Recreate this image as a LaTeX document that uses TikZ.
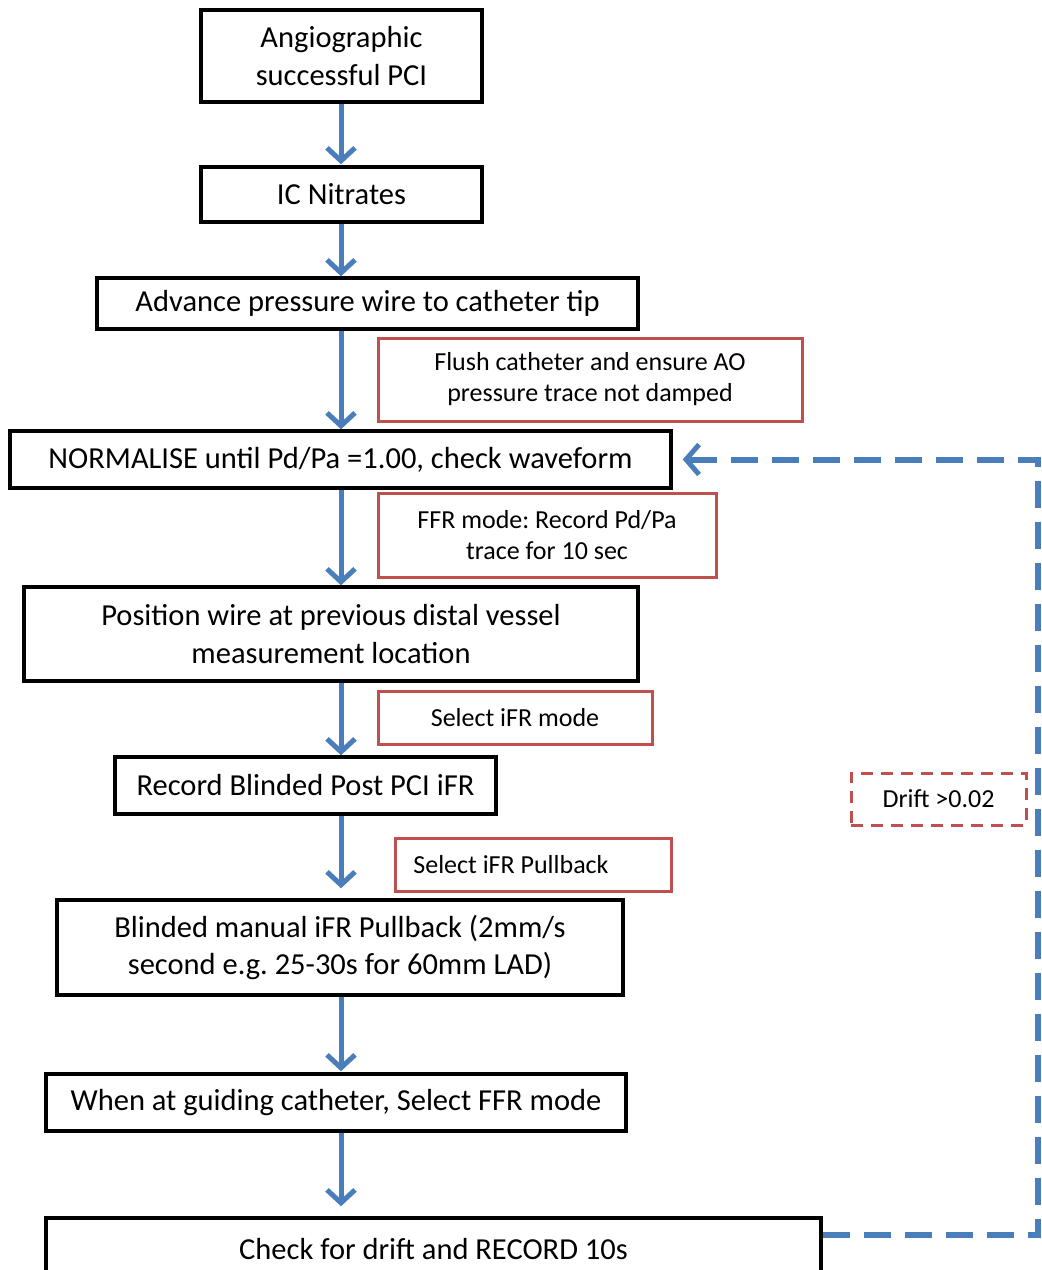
\documentclass[tikz,border=0pt]{standalone}
\usepackage{fontspec}
\setmainfont{Carlito}
\usetikzlibrary{arrows.meta}
\definecolor{flowblue}{HTML}{4A7EBB}
\definecolor{notered}{HTML}{C0504D}
\frenchspacing
\begin{document}
\begin{tikzpicture}[x=1pt,y=-1pt,
  stepbox/.style={draw=black, line width=3.5pt, align=center, inner sep=0pt,
    font=\fontsize{30.5}{37.5}\selectfont\frenchspacing},
  notebox/.style={draw=notered, line width=3pt, align=center, inner sep=0pt,
    font=\fontsize{26}{31}\selectfont\frenchspacing},
  flow/.style={draw=flowblue, line width=5pt,
    -{Straight Barb[length=13pt,width=28pt,line width=5pt]}},
  feedback/.style={draw=flowblue, line width=6pt, dash pattern=on 27pt off 14pt,
    -{Straight Barb[length=13pt,width=30pt,line width=5pt]}},
]
\useasboundingbox (0,0) rectangle (1042,1270);
\coordinate (spine) at (341,0);
\coordinate (loopx) at (1038,0);

\node[stepbox, minimum width=281pt, minimum height=92pt] (n1) at (341.5,56) {Angiographic\\successful PCI};
\node[stepbox, minimum width=281pt, minimum height=55pt] (n2) at (341.5,194.5) {IC Nitrates};
\node[stepbox, minimum width=541pt, minimum height=51pt] (n3) at (367.5,303.5) {\raisebox{-5pt}{Advance pressure wire to catheter tip}};
\node[stepbox, minimum width=661pt, minimum height=57pt] (n4) at (340.5,459.5) {\raisebox{-2pt}{NORMALISE until Pd/Pa =1.00, check waveform}};
\node[stepbox, minimum width=614pt, minimum height=94pt] (n5) at (331,634) {Position wire at previous distal vessel\\measurement location};
\node[stepbox, minimum width=381pt, minimum height=57pt] (n6) at (305.5,785.5) {Record Blinded Post PCI iFR};
\node[stepbox, minimum width=566pt, minimum height=95pt] (n7) at (340,947.5) {Blinded manual iFR Pullback (2mm/s\\second e.g. 25-30s for 60mm LAD)};
\node[stepbox, minimum width=580pt, minimum height=57pt] (n8) at (336,1102.5) {\raisebox{-1pt}{When at guiding catheter, Select FFR mode}};
\node[stepbox, minimum width=775pt, minimum height=62pt] (n9) at (433.5,1249) {Check for drift and RECORD 10s};

\node[notebox, minimum width=424pt, minimum height=83pt] (r1) at (590,379.5) {Flush catheter and ensure AO\\pressure trace not damped};
\node[notebox, minimum width=338pt, minimum height=84pt] (r2) at (547,535) {FFR mode: Record Pd/Pa\\trace for 10 sec};
\node[notebox, minimum width=274pt, minimum height=53pt] (r3) at (515,717.5) {Select iFR mode};
\node[notebox, minimum width=276pt, minimum height=53pt] (r4) at (533,864.5) {Select iFR Pullback\hspace*{44pt}};
\node[notebox, dash pattern=on 12pt off 8pt, minimum width=175pt, minimum height=52pt] (r5) at (938.5,799) {Drift >0.02};

\draw[flow, shorten >=1pt] (spine |- n1.south) -- (spine |- n2.north);
\draw[flow] (spine |- n2.south) -- (spine |- n3.north);
\draw[flow] (spine |- n3.south) -- (spine |- n4.north);
\draw[flow] (spine |- n4.south) -- (spine |- n5.north);
\draw[flow] (spine |- n5.south) -- (spine |- n6.north);
\draw[flow, shorten >=10pt] (spine |- n6.south) -- (spine |- n7.north);
\draw[flow, shorten >=1pt] (spine |- n7.south) -- (spine |- n8.north);
\draw[flow, shorten >=10pt] (spine |- n8.south) -- (spine |- n9.north);

\draw[feedback, shorten >=10pt] ([yshift=-19pt]n9.north east) -| (loopx |- n4.east) -- (n4.east);
\end{tikzpicture}
\end{document}
